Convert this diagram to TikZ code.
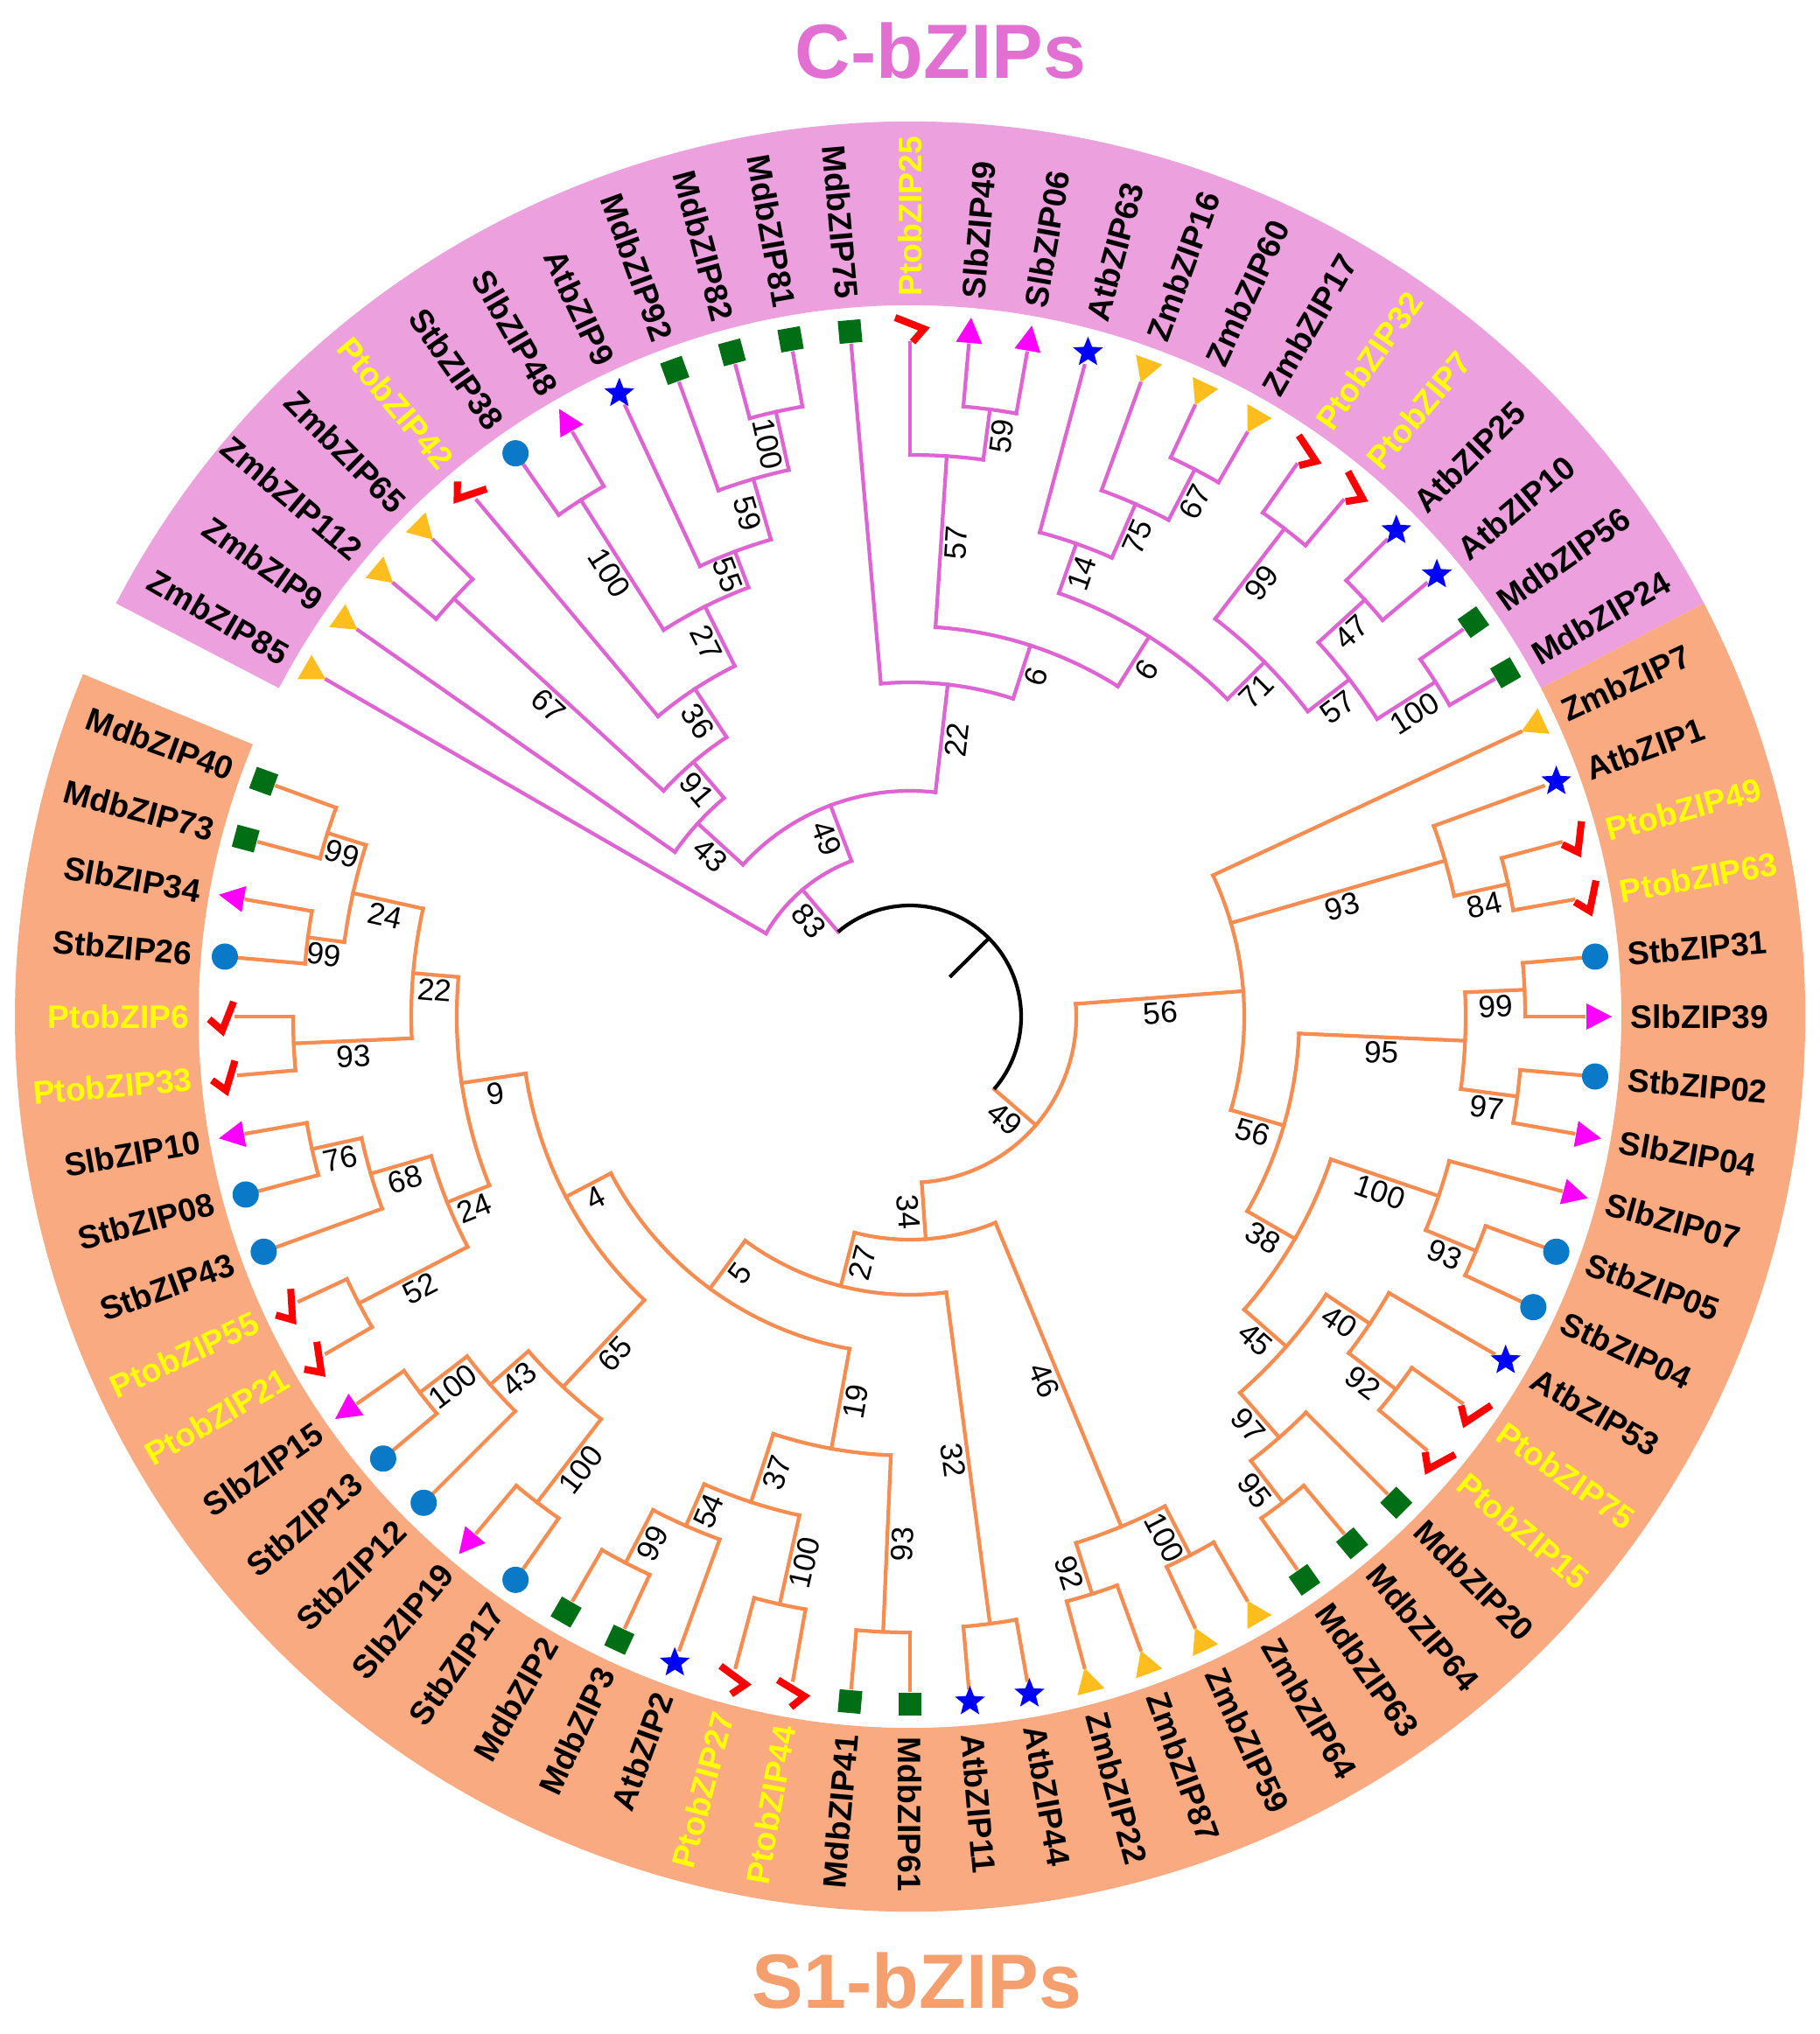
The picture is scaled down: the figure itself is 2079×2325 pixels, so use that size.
\documentclass[tikz,border=0pt]{standalone}
\usepackage{fontspec}
\setmainfont{Liberation Sans}
\usetikzlibrary{shapes.geometric}
\definecolor{pkfill}{RGB}{237,160,222}
\definecolor{orfill}{RGB}{249,170,128}
\definecolor{pkline}{RGB}{222,100,212}
\definecolor{orline}{RGB}{247,140,80}
\definecolor{pktitle}{RGB}{225,112,210}
\definecolor{ortitle}{RGB}{245,158,110}
\definecolor{mkyellow}{RGB}{255,190,30}
\definecolor{mkmag}{RGB}{255,0,255}
\definecolor{mkcirc}{RGB}{10,122,200}
\definecolor{mkgreen}{RGB}{0,110,20}
\definecolor{mkstar}{RGB}{0,0,255}
\definecolor{mkred}{RGB}{255,0,0}
\definecolor{labyel}{RGB}{255,255,0}
\newcommand\A[1]{\csname A@#1\endcsname}
\newcommand\tipR{770}
\newcommand\markR{786}
\newcommand\labR{823}
% markers: #1 = radial angle, #2 = text rotation
\newcommand\mYT[2]{\fill[mkyellow, rotate=#1] (-15,0) -- (13,16) -- (13,-16) -- cycle;}
\newcommand\mMT[2]{\fill[mkmag, rotate=#1] (16,0) -- (-13,15) -- (-13,-15) -- cycle;}
\newcommand\mCI[2]{\fill[mkcirc] (0,0) circle[radius=15];}
\newcommand\mSQ[2]{\fill[mkgreen, rotate=#1] (-13,-13) rectangle (13,13);}
\newcommand\mST[2]{\node[star, star points=5, star point ratio=2.3, fill=mkstar, inner sep=0pt, minimum size=0.36cm] at (0,0) {};}
\newcommand\mCK[2]{\draw[mkred, line width=2.3pt, rotate=#2] (-15,-3) -- (0,-16) -- (13,17);}
% clade: #1 name, #2 style, #3 parent R, #4 R, #5 a1, #6 a2, #7 bootstrap
\newcommand\clade[7]{%
  \pgfmathsetmacro\tmpa{(#5+#6)/2}%
  \expandafter\xdef\csname A@#1\endcsname{\tmpa}%
  \draw[#2] (#5:#4) arc[start angle=#5, end angle=#6, radius=#4];
  \draw[#2] (\tmpa:#3) -- (\tmpa:#4);
  \coordinate (#1) at (\tmpa:#4);
  \pgfmathsetmacro\rmid{(#3+#4)/2}%
  \pgfmathsetmacro\brot{cos(\tmpa)>-0.0001 ? \tmpa : \tmpa+180}%
  \node[bs, rotate=\brot, anchor=north] (#1-bs) at (\tmpa:\rmid) {#7};
}
% leaf: #1 style, #2 parent R, #3 angle, #4 marker, #5 text colour, #6 text
\newcommand\leaf[6]{%
  \draw[#1] (#3:#2) -- (#3:\tipR);
  \pgfmathsetmacro\lrot{cos(#3)>-0.0001 ? #3 : #3+180}%
  \pgfmathsetmacro\isright{cos(#3)>-0.0001 ? 1 : 0}%
  \begin{scope}[shift={(#3:\markR)}]#4{#3}{\lrot}\end{scope}
  \ifdim\isright pt>0.5pt
    \node[leaflab, text=#5, rotate=\lrot, anchor=west] (#6) at (#3:\labR) {#6};
  \else
    \node[leaflab, text=#5, rotate=\lrot, anchor=east] (#6) at (#3:\labR) {#6};
  \fi
}
\begin{document}
\begin{tikzpicture}[x=0.01cm, y=0.01cm,
  pkb/.style={draw=pkline, line width=1.2pt, line cap=rect},
  orb/.style={draw=orline, line width=1.2pt, line cap=rect},
  bs/.style={font=\fontsize{10}{12}\selectfont, inner sep=1.2pt, text=black},
  leaflab/.style={font=\bfseries\fontsize{10.6}{12}\selectfont, inner sep=0pt},
  ttl/.style={font=\bfseries\fontsize{25}{30}\selectfont, inner sep=0pt}]
\useasboundingbox (-1040,-1163) rectangle (1039,1162);
\fill[white] (-1040,-1163) rectangle (1039,1162);
% sectors
\fill[pkfill] (27.5:813) arc[start angle=27.5,end angle=152.5,radius=813] -- (152.5:1023) arc[start angle=152.5,end angle=27.5,radius=1023] -- cycle;
\fill[orfill] (-202.5:813) arc[start angle=-202.5,end angle=27.5,radius=813] -- (27.5:1023) arc[start angle=27.5,end angle=-202.5,radius=1023] -- cycle;
% titles
\node[ttl, text=pktitle, anchor=base] (tC) at (35,1072) {C-bZIPs};
\node[ttl, text=ortitle, anchor=base] (tS) at (8,-1133) {S1-bZIPs};
% ---------- pink clades
\clade{p100a}{pkb}{640}{708}{105}{100}{100}
\clade{p59}{pkb}{568}{640}{110}{\A{p100a}}{59}
\clade{p55}{pkb}{524}{568}{115}{\A{p59}}{55}
\clade{p100b}{pkb}{524}{700}{125}{120}{100}
\clade{p27}{pkb}{448}{524}{\A{p100b}}{\A{p55}}{27}
\clade{p36}{pkb}{382}{448}{130}{\A{p27}}{36}
\clade{p67}{pkb}{382}{707}{140}{135}{67}
\clade{p91}{pkb}{328}{382}{\A{p67}}{\A{p36}}{91}
\clade{p43}{pkb}{258}{328}{145}{\A{p91}}{43}
\clade{p59b}{pkb}{642}{700}{85}{80}{59}
\clade{p57}{pkb}{446}{642}{90}{\A{p59b}}{57}
\clade{p67b}{pkb}{640}{705}{65}{60}{67}
\clade{p75}{pkb}{573}{640}{70}{\A{p67b}}{75}
\clade{p14}{pkb}{513}{573}{75}{\A{p75}}{14}
\clade{p99}{pkb}{573}{703}{55}{50}{99}
\clade{p47}{pkb}{633}{705}{45}{40}{47}
\clade{p100c}{pkb}{633}{712}{35}{30}{100}
\clade{p57b}{pkb}{573}{633}{\A{p47}}{\A{p100c}}{57}
\clade{p71}{pkb}{513}{573}{\A{p99}}{\A{p57b}}{71}
\clade{p6b}{pkb}{446}{513}{\A{p14}}{\A{p71}}{6}
\clade{p6a}{pkb}{382}{446}{\A{p57}}{\A{p6b}}{6}
\clade{p22}{pkb}{258}{382}{95}{\A{p6a}}{22}
\clade{p49}{pkb}{190}{258}{\A{p43}}{\A{p22}}{49}
\clade{p83}{pkb}{127}{190}{150}{\A{p49}}{83}
% ---------- orange clades
\clade{o84}{orb}{637}{700}{15}{10}{84}
\clade{o93}{orb}{382}{637}{20}{\A{o84}}{93}
\clade{o99}{orb}{635}{703}{5}{0}{99}
\clade{o97}{orb}{635}{700}{-5}{-10}{97}
\clade{o95}{orb}{445}{635}{\A{o99}}{\A{o97}}{95}
\clade{o93b}{orb}{638}{700}{-20}{-25}{93}
\clade{o100d}{orb}{508}{638}{-15}{\A{o93b}}{100}
\clade{o92}{orb}{632}{700}{-35}{-40}{92}
\clade{o40}{orb}{572}{632}{-30}{\A{o92}}{40}
\clade{o95b}{orb}{640}{700}{-50}{-55}{95}
\clade{o97b}{orb}{572}{640}{-45}{\A{o95b}}{97}
\clade{o45}{orb}{508}{572}{\A{o40}}{\A{o97b}}{45}
\clade{o38}{orb}{445}{508}{\A{o100d}}{\A{o45}}{38}
\clade{o56b}{orb}{382}{445}{\A{o95}}{\A{o38}}{56}
\clade{o56}{orb}{190}{382}{25}{\A{o56b}}{56}
\clade{o100e}{orb}{631}{694}{-60}{-65}{100}
\clade{o92b}{orb}{631}{692}{-70}{-75}{92}
\clade{o46}{orb}{255}{631}{\A{o100e}}{\A{o92b}}{46}
\clade{o32}{orb}{318}{700}{-80}{-85}{32}
\clade{o93c}{orb}{502}{704}{-90}{-95}{93}
\clade{o100f}{orb}{584}{688}{-100}{-105}{100}
\clade{o99c}{orb}{636}{704}{-115}{-120}{99}
\clade{o54}{orb}{584}{636}{-110}{\A{o99c}}{54}
\clade{o37}{orb}{502}{584}{\A{o100f}}{\A{o54}}{37}
\clade{o19}{orb}{386}{502}{\A{o93c}}{\A{o37}}{19}
\clade{o100g}{orb}{580}{700}{-125}{-130}{100}
\clade{o100h}{orb}{638}{706}{-140}{-145}{100}
\clade{o43}{orb}{580}{638}{-135}{\A{o100h}}{43}
\clade{o65}{orb}{444}{580}{\A{o100g}}{\A{o43}}{65}
\clade{o76}{orb}{642}{700}{-165}{-170}{76}
\clade{o68}{orb}{570}{642}{-160}{\A{o76}}{68}
\clade{o52}{orb}{570}{710}{-150}{-155}{52}
\clade{o24b}{orb}{518}{570}{\A{o68}}{\A{o52}}{24}
\clade{o93d}{orb}{570}{705}{-175}{-180}{93}
\clade{o99e}{orb}{652}{694}{-185}{-190}{99}
\clade{o99d}{orb}{652}{698}{-195}{-200}{99}
\clade{o24c}{orb}{570}{652}{\A{o99e}}{\A{o99d}}{24}
\clade{o22b}{orb}{518}{570}{\A{o93d}}{\A{o24c}}{22}
\clade{o9}{orb}{444}{518}{\A{o22b}}{\A{o24b}}{9}
\clade{o4}{orb}{386}{444}{\A{o9}}{\A{o65}}{4}
\clade{o5}{orb}{318}{386}{\A{o4}}{\A{o19}}{5}
\clade{o27}{orb}{255}{318}{\A{o5}}{\A{o32}}{27}
\clade{o34}{orb}{190}{255}{\A{o27}}{\A{o46}}{34}
\clade{o49}{orb}{127}{190}{\A{o56}}{\A{o34}}{49}
% ---------- root
\pgfmathsetmacro\rootang{(\A{o49}+\A{p83})/2}
\draw[line width=1.2pt] (\A{o49}:127) arc[start angle=\A{o49}, end angle=\A{p83}, radius=127];
\draw[line width=1.2pt] (\rootang:64) coordinate (root) -- (\rootang:127);
% ---------- pink leaves
\leaf{pkb}{190}{150}{\mYT}{black}{ZmbZIP85}
\leaf{pkb}{328}{145}{\mYT}{black}{ZmbZIP9}
\leaf{pkb}{707}{140}{\mYT}{black}{ZmbZIP112}
\leaf{pkb}{707}{135}{\mYT}{black}{ZmbZIP65}
\leaf{pkb}{448}{130}{\mCK}{labyel}{PtobZIP42}
\leaf{pkb}{700}{125}{\mCI}{black}{StbZIP38}
\leaf{pkb}{700}{120}{\mMT}{black}{SlbZIP48}
\leaf{pkb}{568}{115}{\mST}{black}{AtbZIP9}
\leaf{pkb}{640}{110}{\mSQ}{black}{MdbZIP92}
\leaf{pkb}{708}{105}{\mSQ}{black}{MdbZIP82}
\leaf{pkb}{708}{100}{\mSQ}{black}{MdbZIP81}
\leaf{pkb}{382}{95}{\mSQ}{black}{MdbZIP75}
\leaf{pkb}{642}{90}{\mCK}{labyel}{PtobZIP25}
\leaf{pkb}{700}{85}{\mMT}{black}{SlbZIP49}
\leaf{pkb}{700}{80}{\mMT}{black}{SlbZIP06}
\leaf{pkb}{573}{75}{\mST}{black}{AtbZIP63}
\leaf{pkb}{640}{70}{\mYT}{black}{ZmbZIP16}
\leaf{pkb}{705}{65}{\mYT}{black}{ZmbZIP60}
\leaf{pkb}{705}{60}{\mYT}{black}{ZmbZIP17}
\leaf{pkb}{703}{55}{\mCK}{labyel}{PtobZIP32}
\leaf{pkb}{703}{50}{\mCK}{labyel}{PtobZIP7}
\leaf{pkb}{705}{45}{\mST}{black}{AtbZIP25}
\leaf{pkb}{705}{40}{\mST}{black}{AtbZIP10}
\leaf{pkb}{712}{35}{\mSQ}{black}{MdbZIP56}
\leaf{pkb}{712}{30}{\mSQ}{black}{MdbZIP24}
% ---------- orange leaves
\leaf{orb}{382}{25}{\mYT}{black}{ZmbZIP7}
\leaf{orb}{637}{20}{\mST}{black}{AtbZIP1}
\leaf{orb}{700}{15}{\mCK}{labyel}{PtobZIP49}
\leaf{orb}{700}{10}{\mCK}{labyel}{PtobZIP63}
\leaf{orb}{703}{5}{\mCI}{black}{StbZIP31}
\leaf{orb}{703}{0}{\mMT}{black}{SlbZIP39}
\leaf{orb}{700}{-5}{\mCI}{black}{StbZIP02}
\leaf{orb}{700}{-10}{\mMT}{black}{SlbZIP04}
\leaf{orb}{638}{-15}{\mMT}{black}{SlbZIP07}
\leaf{orb}{700}{-20}{\mCI}{black}{StbZIP05}
\leaf{orb}{700}{-25}{\mCI}{black}{StbZIP04}
\leaf{orb}{632}{-30}{\mST}{black}{AtbZIP53}
\leaf{orb}{700}{-35}{\mCK}{labyel}{PtobZIP75}
\leaf{orb}{700}{-40}{\mCK}{labyel}{PtobZIP15}
\leaf{orb}{640}{-45}{\mSQ}{black}{MdbZIP20}
\leaf{orb}{700}{-50}{\mSQ}{black}{MdbZIP64}
\leaf{orb}{700}{-55}{\mSQ}{black}{MdbZIP63}
\leaf{orb}{694}{-60}{\mYT}{black}{ZmbZIP64}
\leaf{orb}{694}{-65}{\mYT}{black}{ZmbZIP59}
\leaf{orb}{692}{-70}{\mYT}{black}{ZmbZIP87}
\leaf{orb}{692}{-75}{\mYT}{black}{ZmbZIP22}
\leaf{orb}{700}{-80}{\mST}{black}{AtbZIP44}
\leaf{orb}{700}{-85}{\mST}{black}{AtbZIP11}
\leaf{orb}{704}{-90}{\mSQ}{black}{MdbZIP61}
\leaf{orb}{704}{-95}{\mSQ}{black}{MdbZIP41}
\leaf{orb}{688}{-100}{\mCK}{labyel}{PtobZIP44}
\leaf{orb}{688}{-105}{\mCK}{labyel}{PtobZIP27}
\leaf{orb}{636}{-110}{\mST}{black}{AtbZIP2}
\leaf{orb}{704}{-115}{\mSQ}{black}{MdbZIP3}
\leaf{orb}{704}{-120}{\mSQ}{black}{MdbZIP2}
\leaf{orb}{700}{-125}{\mCI}{black}{StbZIP17}
\leaf{orb}{700}{-130}{\mMT}{black}{SlbZIP19}
\leaf{orb}{638}{-135}{\mCI}{black}{StbZIP12}
\leaf{orb}{706}{-140}{\mCI}{black}{StbZIP13}
\leaf{orb}{706}{-145}{\mMT}{black}{SlbZIP15}
\leaf{orb}{710}{-150}{\mCK}{labyel}{PtobZIP21}
\leaf{orb}{710}{-155}{\mCK}{labyel}{PtobZIP55}
\leaf{orb}{642}{-160}{\mCI}{black}{StbZIP43}
\leaf{orb}{700}{-165}{\mCI}{black}{StbZIP08}
\leaf{orb}{700}{-170}{\mMT}{black}{SlbZIP10}
\leaf{orb}{705}{-175}{\mCK}{labyel}{PtobZIP33}
\leaf{orb}{705}{-180}{\mCK}{labyel}{PtobZIP6}
\leaf{orb}{694}{-185}{\mCI}{black}{StbZIP26}
\leaf{orb}{694}{-190}{\mMT}{black}{SlbZIP34}
\leaf{orb}{698}{-195}{\mSQ}{black}{MdbZIP73}
\leaf{orb}{698}{-200}{\mSQ}{black}{MdbZIP40}
\end{tikzpicture}
\end{document}
